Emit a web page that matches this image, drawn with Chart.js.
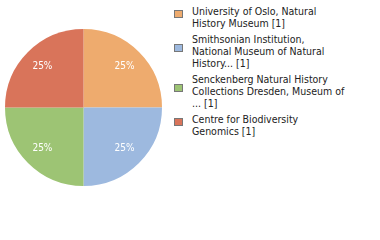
<!DOCTYPE html>
<html>
<head>
<meta charset="utf-8">
<script src="https://cdn.jsdelivr.net/npm/chart.js@4.4.1/dist/chart.umd.min.js"></script>
<style>
  html, body { margin: 0; padding: 0; background: #fff; }
  #wrap { position: relative; width: 380px; height: 240px; overflow: hidden; }
  #pieBox { position: absolute; left: 5px; top: 29px; width: 157px; height: 157px; }
  #leyenda { position: absolute; left: 174px; top: 5px; width: 200px;
    font-family: "DejaVu Sans Condensed", "DejaVu Sans", sans-serif; font-size: 10.5px;
    line-height: 12px; color: #222; }
  .item { position: relative; padding-left: 18px; margin-bottom: 4px; }
  .caja { position: absolute; left: 0; width: 7px; height: 6px; border: 1px solid #777; }
</style>
</head>
<body>
<div id="wrap">
  <div id="pieBox"><canvas id="grafica"></canvas></div>
  <div id="leyenda"></div>
</div>
<script>
// datos
let etiquetas = [
    ["University of Oslo, Natural", "History Museum [1]"],
    ["Smithsonian Institution,", "National Museum of Natural", "History... [1]"],
    ["Senckenberg Natural History", "Collections Dresden, Museum of", "... [1]"],
    ["Centre for Biodiversity", "Genomics [1]"]
];
let valores = [1, 1, 1, 1];
let colores = ['#EEAB6E', '#9DB9DF', '#9DC474', '#D9745A'];

// etiquetas de porcentaje dentro de cada rebanada
let pluginPorcentaje = {
    id: 'porcentaje',
    afterDatasetsDraw(chart) {
        let ctx = chart.ctx;
        let meta = chart.getDatasetMeta(0);
        let total = valores.reduce((a, b) => a + b, 0);
        ctx.save();
        ctx.fillStyle = '#fff';
        ctx.font = '10px "DejaVu Sans Condensed", "DejaVu Sans", sans-serif';
        ctx.textAlign = 'center';
        ctx.textBaseline = 'middle';
        meta.data.forEach((arc, i) => {
            let p = arc.getProps(['x', 'y', 'startAngle', 'endAngle', 'outerRadius'], true);
            let medio = (p.startAngle + p.endAngle) / 2;
            let r = p.outerRadius * 0.74;
            let pct = Math.round(valores[i] / total * 100) + '%';
            ctx.fillText(pct, p.x + Math.cos(medio) * r, p.y + Math.sin(medio) * r);
        });
        ctx.restore();
    }
};

let ctx = document.getElementById('grafica').getContext('2d');
let grafica = new Chart(ctx, {
    type: 'pie',
    data: {
        labels: etiquetas.map(l => l.join(' ')),
        datasets: [{
            data: valores,
            backgroundColor: colores,
            borderWidth: 0
        }]
    },
    options: {
        responsive: true,
        maintainAspectRatio: false,
        animation: false,
        layout: { padding: 0 },
        plugins: {
            legend: { display: false },
            tooltip: { enabled: false }
        }
    },
    plugins: [pluginPorcentaje]
});

// leyenda en html
let leyenda = document.getElementById('leyenda');
etiquetas.forEach((lineas, i) => {
    let div = document.createElement('div');
    div.className = 'item';
    let caja = document.createElement('span');
    caja.className = 'caja';
    caja.style.background = colores[i];
    caja.style.top = (lineas.length * 6 - 7) + 'px';
    div.appendChild(caja);
    div.insertAdjacentHTML('beforeend', lineas.join('<br>'));
    leyenda.appendChild(div);
});
</script>
</body>
</html>
